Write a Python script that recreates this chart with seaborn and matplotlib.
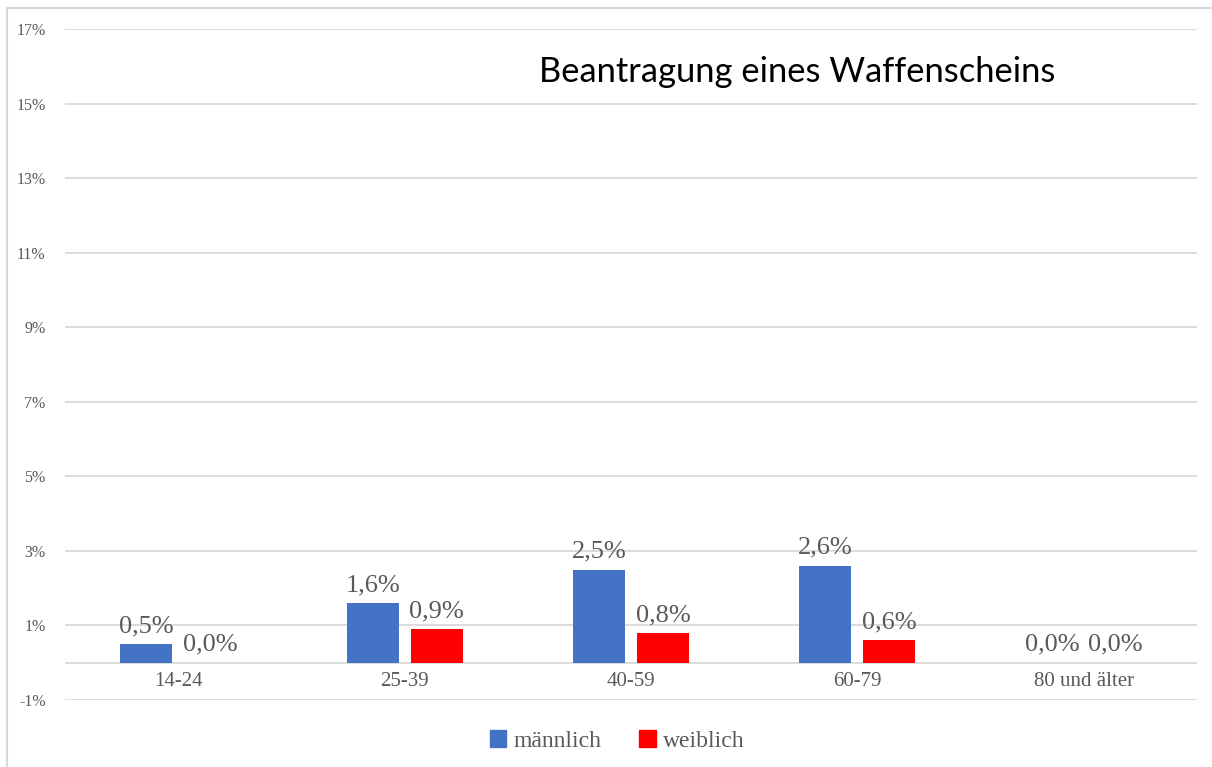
import matplotlib
matplotlib.use("Agg")
import matplotlib.pyplot as plt
import seaborn as sns
import pandas as pd
from matplotlib.lines import Line2D

categories = ["14-24", "25-39", "40-59", "60-79", "80 und älter"]
maennlich = [0.5, 1.6, 2.5, 2.6, 0.0]
weiblich = [0.0, 0.9, 0.8, 0.6, 0.0]
series_names = ["männlich", "weiblich"]
yticks = [-1, 1, 3, 5, 7, 9, 11, 13, 15, 17]
title = "Beantragung eines Waffenscheins"

df = pd.DataFrame({
    "Alter": categories * 2,
    "Wert": maennlich + weiblich,
    "Geschlecht": [series_names[0]] * len(categories) + [series_names[1]] * len(categories),
})

sns.set_style("white")
plt.rcParams["font.family"] = ["Liberation Serif", "DejaVu Serif"]

W, H = 1212, 767
fig = plt.figure(figsize=(W / 100, H / 100), dpi=100)
ax = fig.add_axes([65 / W, 1 - 700 / H, (1197 - 65) / W, (700 - 29) / H])

text_c = "#595959"
grid_c = "#d9d9d9"
palette = {"männlich": "#4472C4", "weiblich": "#FF0000"}

sns.barplot(data=df, x="Alter", y="Wert", hue="Geschlecht", palette=palette,
            saturation=1, width=0.565, gap=0.186, ax=ax, legend=False, zorder=3,
            edgecolor="none", linewidth=0)

ax.set_ylim(-1, 17)
ax.set_xlim(-0.5, len(categories) - 0.5)
ax.set_yticks(yticks)
ax.set_yticklabels([f"{t}%" for t in yticks], fontsize=11.5, color=text_c)
ax.yaxis.grid(True, color=grid_c, linewidth=1.3, zorder=0)
ax.axhline(0, color=grid_c, linewidth=1.3, zorder=1)
ax.set_xlabel("")
ax.set_ylabel("")
for s in ax.spines.values():
    s.set_visible(False)
ax.tick_params(axis="y", length=0, pad=14)
ax.tick_params(axis="x", length=0, pad=-20, labelsize=15, labelcolor=text_c)

for cont in ax.containers:
    labels = [f"{v:.1f}%".replace(".", ",") for v in cont.datavalues]
    ax.bar_label(cont, labels=labels, padding=5, fontsize=19, color=text_c)

ax.text(0.6466, 0.936, title, transform=ax.transAxes, ha="center", va="center",
        fontsize=24.8, family=["Lato", "DejaVu Sans"], color="black")

handles = [plt.Rectangle((0, 0), 1, 1, color=palette[n]) for n in series_names]
fig.legend(handles, series_names, loc="center", bbox_to_anchor=(617 / W, 1 - 741 / H),
           ncol=2, frameon=False, fontsize=17, labelcolor=text_c,
           handlelength=0.7, handleheight=0.7, handletextpad=0.3, columnspacing=1.6)

fig.add_artist(Line2D([7 / W, 1], [1 - 8 / H, 1 - 8 / H], transform=fig.transFigure,
                      color=grid_c, linewidth=1.5))
fig.add_artist(Line2D([7 / W, 7 / W], [0, 1 - 8 / H], transform=fig.transFigure,
                      color=grid_c, linewidth=1.5))

fig.savefig("out.png", dpi=100, facecolor="white")
